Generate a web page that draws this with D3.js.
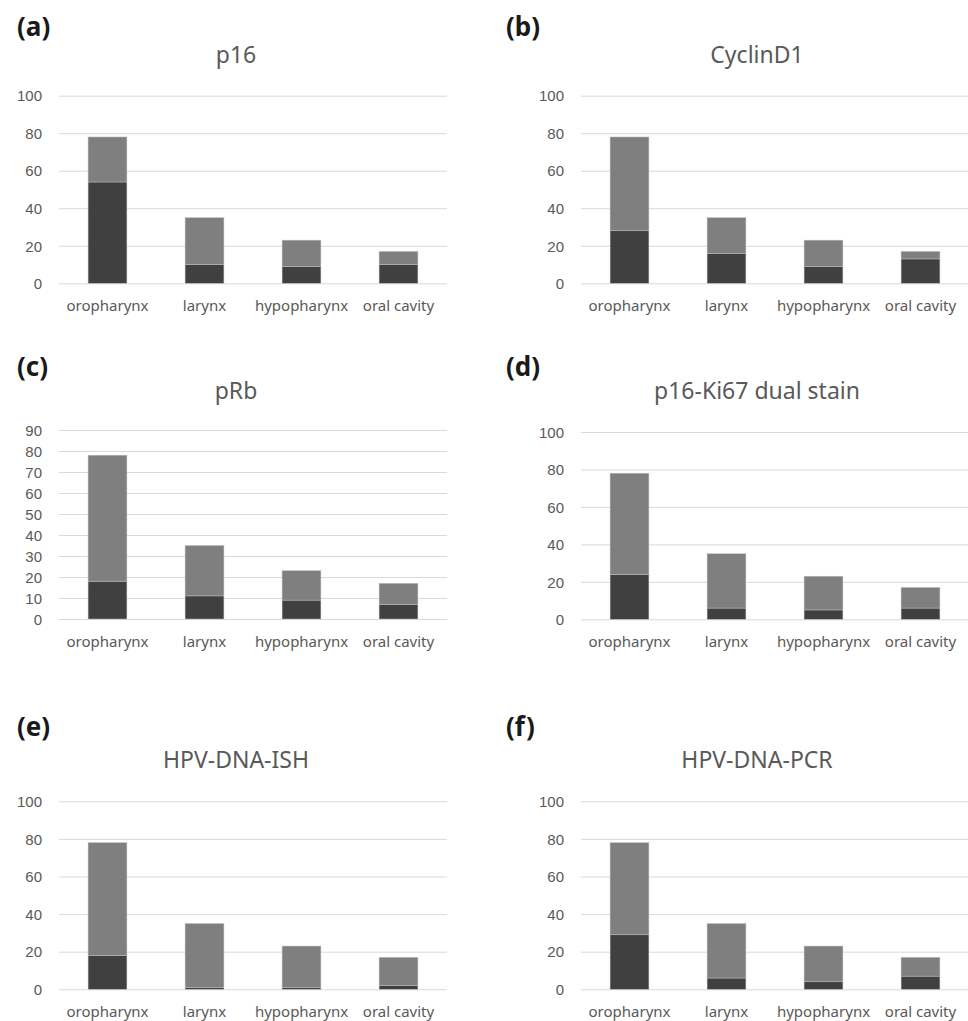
<!DOCTYPE html>
<html>
<head>
<meta charset="utf-8">
<script src="https://cdn.jsdelivr.net/npm/d3@7"></script>
<style>
  html, body { margin: 0; padding: 0; background: #fff; }
  svg { display: block; font-family: "Noto Sans", sans-serif; }
  .grid line { stroke: #d9d9d9; stroke-width: 1; }
  .grid .domain { display: none; }
  .grid text { fill: #595959; font-size: 15px; }
  .cat-label { fill: #595959; font-size: 15px; }
  .chart-title { fill: #595959; font-size: 23px; }
  .panel-label { fill: #1a1a1a; font-size: 26px; font-weight: bold; }
</style>
</head>
<body>
<svg id="chart" width="968" height="1021"></svg>
<script>
const categories = ['oropharynx', 'larynx', 'hypopharynx', 'oral cavity'];

// dark = positive, light = negative (stacked)
const p16Positive = [54, 10, 9, 10];
const p16Negative = [24, 25, 14, 7];
const cyclinPositive = [28, 16, 9, 13];
const cyclinNegative = [50, 19, 14, 4];
const pRbPositive = [18, 11, 9, 7];
const pRbNegative = [60, 24, 14, 10];
const dualPositive = [24, 6, 5, 6];
const dualNegative = [54, 29, 18, 11];
const ishPositive = [18, 1, 1, 2];
const ishNegative = [60, 34, 22, 15];
const pcrPositive = [29, 6, 4, 7];
const pcrNegative = [49, 29, 19, 10];

const ticks100 = [0, 20, 40, 60, 80, 100];
const ticks90 = [0, 10, 20, 30, 40, 50, 60, 70, 80, 90];

const darkColor = '#404040';
const lightColor = '#7f7f7f';

const panels = [
  { label: '(a)', title: 'p16', pos: p16Positive, neg: p16Negative, ticks: ticks100, col: 0, top: 95.7, zero: 283.3, titleY: 63, labelY: 36 },
  { label: '(b)', title: 'CyclinD1', pos: cyclinPositive, neg: cyclinNegative, ticks: ticks100, col: 1, top: 95.7, zero: 283.3, titleY: 63, labelY: 36 },
  { label: '(c)', title: 'pRb', pos: pRbPositive, neg: pRbNegative, ticks: ticks90, col: 0, top: 430, zero: 619, titleY: 399, labelY: 376 },
  { label: '(d)', title: 'p16-Ki67 dual stain', pos: dualPositive, neg: dualNegative, ticks: ticks100, col: 1, top: 432, zero: 619.3, titleY: 399, labelY: 376 },
  { label: '(e)', title: 'HPV-DNA-ISH', pos: ishPositive, neg: ishNegative, ticks: ticks100, col: 0, top: 801.3, zero: 989.3, titleY: 768, labelY: 736 },
  { label: '(f)', title: 'HPV-DNA-PCR', pos: pcrPositive, neg: pcrNegative, ticks: ticks100, col: 1, top: 801.3, zero: 989.3, titleY: 768, labelY: 736 },
];

const columns = [
  { plotLeft: 59, plotRight: 447, titleX: 236, labelX: 17 },
  { plotLeft: 581, plotRight: 969, titleX: 757, labelX: 506 },
];

const svg = d3.select('#chart');

panels.forEach((panel) => {
  const col = columns[panel.col];
  const g = svg.append('g');

  const x = d3.scaleBand()
    .domain(categories)
    .range([col.plotLeft, col.plotRight])
    .paddingInner(0.6)
    .paddingOuter(0.3);

  const yMax = d3.max(panel.ticks);
  const y = d3.scaleLinear().domain([0, yMax]).range([panel.zero, panel.top]);

  // gridlines + tick labels
  g.append('g')
    .attr('class', 'grid')
    .attr('transform', `translate(${col.plotLeft},0)`)
    .call(d3.axisLeft(y).tickValues(panel.ticks).tickSize(-(col.plotRight - col.plotLeft)).tickPadding(17))
    .call((axis) => axis.selectAll('text').attr('dy', '0.35em'));

  // stacked bars
  const rows = categories.map((c, i) => ({ cat: c, pos: panel.pos[i], neg: panel.neg[i] }));
  const stack = d3.stack().keys(['pos', 'neg'])(rows);
  const colors = [darkColor, lightColor];

  stack.forEach((layer, li) => {
    g.append('g')
      .selectAll('rect')
      .data(layer)
      .join('rect')
      .attr('x', (d) => x(d.data.cat))
      .attr('width', x.bandwidth())
      .attr('y', (d) => y(d[1]))
      .attr('height', (d) => y(d[0]) - y(d[1]))
      .attr('fill', colors[li])
      .attr('stroke', '#bdbdbd')
      .attr('stroke-width', 0.5);
  });

  // category labels
  g.append('g')
    .selectAll('text')
    .data(categories)
    .join('text')
    .attr('class', 'cat-label')
    .attr('x', (d) => x(d) + x.bandwidth() / 2)
    .attr('y', panel.zero + 28)
    .attr('text-anchor', 'middle')
    .text((d) => d);

  g.append('text')
    .attr('class', 'chart-title')
    .attr('x', col.titleX)
    .attr('y', panel.titleY)
    .attr('text-anchor', 'middle')
    .text(panel.title);

  g.append('text')
    .attr('class', 'panel-label')
    .attr('x', col.labelX)
    .attr('y', panel.labelY)
    .text(panel.label);
});
</script>
</body>
</html>
